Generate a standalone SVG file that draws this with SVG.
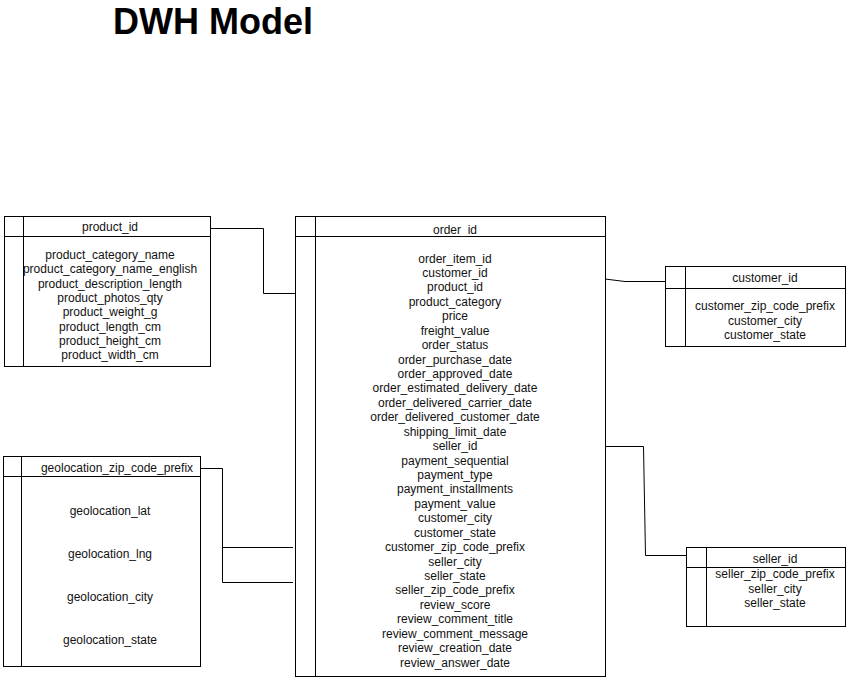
<svg xmlns="http://www.w3.org/2000/svg" width="846" height="677" viewBox="0 0 846 677">
<style>
.box{fill:#fff;stroke:#000;stroke-width:1}
.ln{fill:none;stroke:#000;stroke-width:1}
.t{font-family:"Liberation Sans",Arial,sans-serif;font-size:12px;fill:#111;text-anchor:middle}
.title{font-family:"Liberation Sans",Arial,sans-serif;font-size:36px;font-weight:bold;fill:#000}
</style>
<rect width="846" height="677" fill="#fff"/>
<text class="title" x="113" y="34">DWH Model</text>
<g id="connectors">
<polyline class="ln" points="211,228.5 263.5,228.5 263.5,293.5 295,293.5"/>
<polyline class="ln" points="605,279 625,281.5 665,281.5"/>
<polyline class="ln" points="200,468.5 222.5,468.5 222.5,582.5 293,582.5"/>
<polyline class="ln" points="222.5,547.5 293,547.5"/>
<polyline class="ln" points="605,446.5 643.5,446.5 645.5,555.5 687,555.5"/>
</g>
<g id="product">
<rect class="box" x="4.5" y="216.5" width="206" height="150"/>
<line class="ln" x1="4.5" y1="236.5" x2="210.5" y2="236.5"/>
<line class="ln" x1="23.5" y1="216.5" x2="23.5" y2="366.5"/>
<text class="t" x="110" y="231">product_id</text>
<text class="t" x="110" y="259">product_category_name</text>
<text class="t" x="110" y="273.3">product_category_name_english</text>
<text class="t" x="110" y="287.6">product_description_length</text>
<text class="t" x="110" y="301.9">product_photos_qty</text>
<text class="t" x="110" y="316.2">product_weight_g</text>
<text class="t" x="110" y="330.5">product_length_cm</text>
<text class="t" x="110" y="344.8">product_height_cm</text>
<text class="t" x="110" y="359.1">product_width_cm</text>
</g>
<g id="order">
<rect class="box" x="295.5" y="216.5" width="310" height="460"/>
<line class="ln" x1="295.5" y1="236.5" x2="605.5" y2="236.5"/>
<line class="ln" x1="315.5" y1="216.5" x2="315.5" y2="676.5"/>
<text class="t" x="455" y="234">order_id</text>
<text class="t" x="455" y="262.5">order_item_id</text>
<text class="t" x="455" y="276.9">customer_id</text>
<text class="t" x="455" y="291.4">product_id</text>
<text class="t" x="455" y="305.8">product_category</text>
<text class="t" x="455" y="320.2">price</text>
<text class="t" x="455" y="334.7">freight_value</text>
<text class="t" x="455" y="349.1">order_status</text>
<text class="t" x="455" y="363.5">order_purchase_date</text>
<text class="t" x="455" y="377.9">order_approved_date</text>
<text class="t" x="455" y="392.4">order_estimated_delivery_date</text>
<text class="t" x="455" y="406.8">order_delivered_carrier_date</text>
<text class="t" x="455" y="421.2">order_delivered_customer_date</text>
<text class="t" x="455" y="435.7">shipping_limit_date</text>
<text class="t" x="455" y="450.1">seller_id</text>
<text class="t" x="455" y="464.5">payment_sequential</text>
<text class="t" x="455" y="479">payment_type</text>
<text class="t" x="455" y="493.4">payment_installments</text>
<text class="t" x="455" y="507.8">payment_value</text>
<text class="t" x="455" y="522.2">customer_city</text>
<text class="t" x="455" y="536.7">customer_state</text>
<text class="t" x="455" y="551.1">customer_zip_code_prefix</text>
<text class="t" x="455" y="565.5">seller_city</text>
<text class="t" x="455" y="580">seller_state</text>
<text class="t" x="455" y="594.4">seller_zip_code_prefix</text>
<text class="t" x="455" y="608.8">review_score</text>
<text class="t" x="455" y="623.2">review_comment_title</text>
<text class="t" x="455" y="637.7">review_comment_message</text>
<text class="t" x="455" y="652.1">review_creation_date</text>
<text class="t" x="455" y="666.5">review_answer_date</text>
</g>
<g id="customer">
<rect class="box" x="665.5" y="266.5" width="180" height="80"/>
<line class="ln" x1="665.5" y1="288.5" x2="845.5" y2="288.5"/>
<line class="ln" x1="685.5" y1="266.5" x2="685.5" y2="346.5"/>
<text class="t" x="765" y="282">customer_id</text>
<text class="t" x="765" y="310">customer_zip_code_prefix</text>
<text class="t" x="765" y="324.5">customer_city</text>
<text class="t" x="765" y="339">customer_state</text>
</g>
<g id="geolocation">
<rect class="box" x="3.5" y="456.5" width="197" height="210"/>
<line class="ln" x1="3.5" y1="476.5" x2="200.5" y2="476.5"/>
<line class="ln" x1="21.5" y1="456.5" x2="21.5" y2="666.5"/>
<text class="t" x="117" y="472">geolocation_zip_code_prefix</text>
<text class="t" x="110" y="515">geolocation_lat</text>
<text class="t" x="110" y="558">geolocation_lng</text>
<text class="t" x="110" y="601">geolocation_city</text>
<text class="t" x="110" y="644">geolocation_state</text>
</g>
<g id="seller">
<rect class="box" x="686.5" y="547.5" width="159" height="79"/>
<line class="ln" x1="686.5" y1="567.5" x2="845.5" y2="567.5"/>
<line class="ln" x1="706.5" y1="547.5" x2="706.5" y2="626.5"/>
<text class="t" x="775" y="563">seller_id</text>
<text class="t" x="775" y="578">seller_zip_code_prefix</text>
<text class="t" x="775" y="593">seller_city</text>
<text class="t" x="775" y="607">seller_state</text>
</g>
</svg>
